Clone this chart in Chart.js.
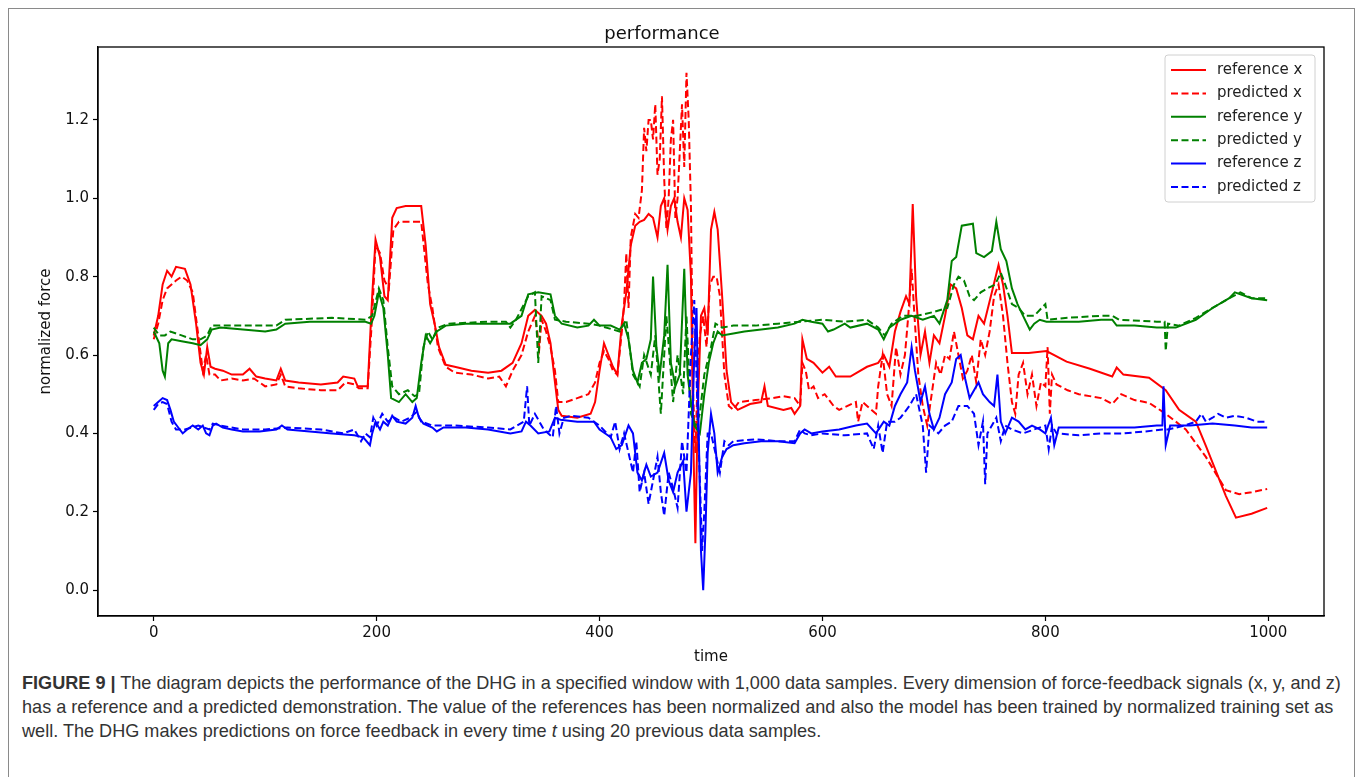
<!DOCTYPE html>
<html>
<head>
<meta charset="utf-8">
<script src="https://cdn.jsdelivr.net/npm/chart.js@4"></script>
<style>
  body { margin: 0; background: #fff; width: 1358px; height: 777px; overflow: hidden; position: relative; }
  #frame { position: absolute; left: 8px; top: 8px; width: 1345px; height: 800px; border: 1.5px solid #8a8a8a; border-bottom: none; }
  #wrap { position: absolute; left: 0; top: 0; width: 1358px; height: 668px; }
  #caption { position: absolute; left: 22px; top: 671px; width: 1330px; font-family: "Liberation Sans", Arial, sans-serif; font-size: 18.1px; line-height: 24px; color: #333; white-space: nowrap; }
  #caption b { color: #333; }
</style>
</head>
<body>
<div id="frame"></div>
<div id="wrap"><canvas id="chart" width="1358" height="668"></canvas></div>
<div id="caption"><b>FIGURE 9 |</b> The diagram depicts the performance of the DHG in a specified window with 1,000 data samples. Every dimension of force-feedback signals (x, y, and z)<br>has a reference and a predicted demonstration. The value of the references has been normalized and also the model has been trained by normalized training set as<br>well. The DHG makes predictions on force feedback in every time <i>t</i> using 20 previous data samples.</div>
<script>
// [time, value] pairs
const refX = [[0,0.65],[4,0.70],[8,0.78],[12,0.815],[16,0.80],[20,0.825],[28,0.82],[33,0.78],[38,0.68],[42,0.58],[45,0.55],[48,0.62],[51,0.57],[55,0.565],[62,0.56],[70,0.55],[80,0.55],[86,0.565],[92,0.545],[100,0.54],[110,0.535],[114,0.565],[118,0.535],[130,0.53],[150,0.525],[165,0.53],[170,0.545],[180,0.54],[183,0.52],[192,0.52],[196,0.75],[199,0.895],[203,0.85],[207,0.75],[210,0.74],[214,0.95],[218,0.975],[226,0.98],[240,0.98],[244,0.88],[248,0.73],[252,0.68],[256,0.62],[262,0.575],[270,0.57],[285,0.56],[300,0.555],[312,0.56],[322,0.58],[330,0.63],[336,0.70],[342,0.715],[348,0.70],[352,0.68],[356,0.63],[360,0.53],[363,0.46],[366,0.445],[380,0.44],[392,0.45],[396,0.48],[400,0.56],[404,0.63],[408,0.60],[412,0.57],[416,0.55],[420,0.68],[424,0.76],[428,0.88],[432,0.93],[436,0.94],[440,0.945],[444,0.96],[448,0.95],[452,0.90],[455,0.98],[458,1.0],[461,0.92],[464,0.98],[467,1.0],[470,0.94],[473,0.90],[476,1.0],[479,0.97],[482,0.80],[484,0.40],[486,0.12],[488,0.45],[491,0.70],[494,0.72],[497,0.65],[500,0.92],[503,0.965],[506,0.92],[510,0.75],[514,0.56],[518,0.48],[524,0.46],[535,0.475],[545,0.48],[548,0.52],[551,0.47],[565,0.46],[572,0.465],[575,0.45],[580,0.47],[582,0.64],[586,0.59],[592,0.58],[600,0.555],[606,0.57],[612,0.545],[625,0.545],[640,0.57],[650,0.58],[655,0.60],[660,0.57],[665,0.66],[670,0.71],[675,0.75],[678,0.73],[681,0.985],[684,0.75],[688,0.60],[692,0.66],[696,0.58],[700,0.65],[705,0.63],[710,0.70],[715,0.78],[720,0.77],[725,0.72],[730,0.65],[735,0.64],[740,0.70],[745,0.68],[752,0.76],[758,0.83],[762,0.78],[766,0.70],[770,0.605],[785,0.605],[801,0.61],[819,0.583],[840,0.565],[860,0.545],[864,0.568],[870,0.55],[893,0.542],[908,0.51],[920,0.46],[935,0.43],[944,0.368],[962,0.24],[971,0.185],[985,0.195],[999,0.21]];
const predX = [[0,0.64],[4,0.68],[8,0.74],[12,0.77],[16,0.78],[20,0.79],[25,0.80],[30,0.79],[35,0.76],[40,0.65],[44,0.56],[47,0.60],[50,0.55],[55,0.55],[60,0.535],[70,0.54],[80,0.535],[90,0.54],[95,0.53],[100,0.52],[110,0.525],[114,0.55],[118,0.52],[130,0.515],[150,0.51],[165,0.51],[172,0.53],[180,0.525],[184,0.515],[192,0.515],[196,0.70],[199,0.88],[203,0.86],[207,0.79],[211,0.77],[215,0.92],[220,0.94],[240,0.94],[246,0.78],[250,0.72],[255,0.62],[262,0.57],[270,0.555],[285,0.55],[300,0.54],[310,0.545],[316,0.52],[322,0.56],[330,0.60],[336,0.66],[342,0.70],[346,0.62],[348,0.69],[352,0.66],[356,0.62],[360,0.56],[363,0.48],[370,0.48],[380,0.49],[390,0.50],[396,0.53],[400,0.58],[404,0.61],[408,0.59],[412,0.56],[416,0.55],[420,0.66],[422,0.73],[424,0.86],[426,0.72],[428,0.90],[432,0.96],[435,0.95],[438,1.02],[440,1.18],[442,1.12],[444,1.20],[446,1.20],[448,1.15],[450,1.24],[452,1.06],[454,1.10],[456,1.26],[458,1.05],[460,0.92],[462,1.00],[464,1.15],[466,1.20],[468,0.95],[470,1.00],[472,1.12],[474,1.24],[476,1.08],[478,1.32],[480,1.20],[482,0.98],[484,0.50],[486,0.35],[488,0.55],[490,0.65],[493,0.70],[496,0.62],[499,0.78],[502,0.80],[505,0.80],[508,0.75],[512,0.55],[516,0.47],[520,0.46],[525,0.48],[540,0.485],[555,0.49],[565,0.495],[575,0.49],[580,0.47],[582,0.58],[585,0.56],[588,0.51],[592,0.52],[596,0.49],[602,0.50],[610,0.47],[615,0.46],[630,0.48],[632,0.43],[636,0.48],[648,0.45],[650,0.52],[654,0.60],[658,0.50],[662,0.47],[666,0.62],[670,0.55],[674,0.60],[677,0.70],[680,0.82],[683,0.68],[686,0.55],[690,0.47],[694,0.42],[698,0.50],[702,0.58],[706,0.55],[710,0.60],[714,0.59],[718,0.66],[722,0.60],[726,0.54],[730,0.56],[734,0.60],[738,0.53],[742,0.64],[746,0.60],[750,0.66],[754,0.75],[758,0.78],[762,0.70],[766,0.58],[770,0.48],[773,0.45],[776,0.55],[780,0.58],[784,0.50],[788,0.55],[792,0.47],[796,0.53],[800,0.52],[802,0.62],[804,0.45],[806,0.55],[810,0.525],[820,0.51],[830,0.50],[850,0.49],[860,0.475],[868,0.50],[880,0.485],[893,0.478],[908,0.45],[926,0.41],[944,0.34],[962,0.255],[974,0.245],[985,0.25],[999,0.258]];
const refY = [[0,0.66],[5,0.63],[8,0.56],[10,0.545],[13,0.63],[16,0.64],[25,0.635],[35,0.63],[42,0.625],[48,0.64],[52,0.665],[60,0.67],[80,0.665],[100,0.66],[110,0.665],[118,0.68],[140,0.685],[160,0.685],[180,0.685],[190,0.685],[195,0.68],[198,0.70],[202,0.76],[206,0.72],[210,0.60],[213,0.49],[220,0.48],[226,0.50],[232,0.48],[236,0.49],[240,0.58],[244,0.65],[248,0.63],[254,0.66],[262,0.675],[280,0.68],[300,0.68],[320,0.68],[330,0.70],[336,0.755],[345,0.76],[356,0.755],[360,0.70],[366,0.68],[380,0.67],[390,0.675],[395,0.69],[400,0.675],[410,0.675],[418,0.665],[422,0.68],[426,0.64],[430,0.56],[434,0.53],[438,0.58],[442,0.59],[446,0.64],[448,0.80],[451,0.62],[454,0.55],[458,0.65],[461,0.83],[464,0.58],[468,0.52],[472,0.55],[476,0.82],[479,0.55],[482,0.48],[485,0.42],[490,0.40],[494,0.50],[498,0.58],[502,0.63],[506,0.66],[510,0.65],[520,0.655],[530,0.66],[545,0.665],[560,0.67],[575,0.68],[582,0.69],[590,0.685],[600,0.68],[605,0.66],[610,0.665],[620,0.68],[625,0.67],[640,0.68],[650,0.665],[655,0.64],[660,0.67],[670,0.69],[680,0.70],[690,0.69],[700,0.70],[705,0.68],[712,0.74],[716,0.84],[720,0.85],[725,0.93],[735,0.935],[738,0.86],[745,0.85],[752,0.865],[756,0.94],[760,0.87],[765,0.84],[770,0.77],[775,0.73],[780,0.70],[786,0.665],[790,0.68],[795,0.69],[801,0.685],[830,0.685],[850,0.69],[860,0.69],[864,0.675],[880,0.675],[900,0.67],[917,0.67],[935,0.69],[950,0.72],[965,0.745],[970,0.76],[985,0.745],[999,0.74]];
const predY = [[0,0.67],[5,0.65],[10,0.65],[15,0.66],[25,0.65],[35,0.64],[42,0.64],[48,0.65],[52,0.675],[80,0.675],[110,0.675],[118,0.69],[160,0.695],[190,0.69],[196,0.70],[202,0.77],[206,0.74],[210,0.62],[214,0.52],[220,0.50],[228,0.51],[234,0.495],[238,0.50],[242,0.62],[246,0.66],[250,0.64],[255,0.67],[265,0.68],[300,0.685],[316,0.685],[320,0.67],[325,0.69],[336,0.75],[342,0.76],[345,0.58],[348,0.75],[356,0.74],[360,0.69],[370,0.685],[390,0.68],[400,0.675],[418,0.66],[424,0.69],[430,0.55],[436,0.52],[440,0.60],[446,0.55],[450,0.65],[455,0.45],[460,0.70],[466,0.48],[470,0.60],[475,0.50],[478,0.70],[482,0.45],[486,0.42],[490,0.45],[494,0.55],[500,0.62],[504,0.68],[510,0.67],[520,0.675],[540,0.675],[560,0.68],[580,0.685],[600,0.69],[620,0.685],[640,0.69],[650,0.67],[656,0.65],[662,0.68],[672,0.70],[685,0.70],[700,0.71],[712,0.72],[718,0.78],[722,0.80],[727,0.79],[732,0.75],[736,0.74],[742,0.76],[748,0.77],[755,0.78],[760,0.81],[764,0.78],[770,0.73],[776,0.72],[782,0.70],[790,0.70],[800,0.73],[802,0.69],[820,0.695],[850,0.70],[860,0.70],[866,0.69],[900,0.685],[907,0.685],[908,0.61],[910,0.68],[920,0.675],[935,0.695],[950,0.72],[965,0.745],[975,0.76],[985,0.745],[999,0.745]];
const refZ = [[0,0.47],[4,0.48],[8,0.49],[12,0.485],[15,0.46],[18,0.43],[22,0.415],[26,0.40],[30,0.41],[35,0.42],[40,0.41],[44,0.42],[47,0.40],[50,0.395],[53,0.42],[56,0.425],[62,0.415],[70,0.41],[80,0.405],[95,0.405],[110,0.41],[115,0.42],[120,0.41],[140,0.405],[160,0.40],[180,0.395],[188,0.39],[194,0.37],[196,0.40],[199,0.43],[203,0.41],[206,0.43],[210,0.42],[214,0.445],[218,0.43],[226,0.425],[232,0.44],[235,0.47],[238,0.44],[242,0.425],[250,0.415],[254,0.405],[260,0.415],[280,0.415],[300,0.41],[320,0.40],[330,0.405],[334,0.43],[338,0.42],[345,0.40],[355,0.405],[360,0.44],[365,0.435],[380,0.43],[395,0.43],[400,0.41],[410,0.39],[415,0.36],[420,0.37],[426,0.42],[430,0.40],[434,0.30],[438,0.28],[442,0.32],[446,0.29],[452,0.30],[458,0.35],[462,0.28],[466,0.25],[470,0.30],[475,0.33],[478,0.20],[482,0.30],[485,0.60],[487,0.72],[489,0.40],[491,0.10],[493,0.0],[495,0.15],[497,0.35],[500,0.45],[503,0.40],[506,0.30],[510,0.34],[514,0.36],[520,0.37],[530,0.375],[545,0.38],[560,0.38],[575,0.375],[580,0.40],[584,0.41],[590,0.40],[600,0.405],[615,0.41],[630,0.42],[640,0.425],[648,0.40],[655,0.43],[660,0.42],[665,0.47],[670,0.50],[676,0.53],[680,0.62],[683,0.56],[688,0.48],[692,0.52],[696,0.45],[700,0.41],[705,0.44],[710,0.50],[716,0.53],[720,0.59],[724,0.60],[728,0.54],[732,0.49],[736,0.51],[740,0.53],[744,0.50],[750,0.48],[754,0.47],[757,0.55],[760,0.43],[764,0.40],[770,0.44],[776,0.43],[782,0.41],[788,0.42],[795,0.41],[800,0.40],[805,0.44],[808,0.37],[812,0.415],[830,0.415],[860,0.415],[880,0.415],[900,0.42],[905,0.42],[906,0.52],[908,0.37],[912,0.42],[930,0.42],[950,0.425],[970,0.42],[985,0.415],[999,0.415]];
const predZ = [[0,0.46],[4,0.475],[8,0.48],[12,0.475],[16,0.43],[20,0.41],[28,0.41],[40,0.42],[50,0.41],[53,0.425],[60,0.42],[80,0.41],[100,0.41],[120,0.415],[150,0.41],[170,0.40],[180,0.41],[186,0.38],[190,0.40],[194,0.39],[197,0.44],[200,0.42],[205,0.45],[210,0.43],[216,0.44],[222,0.43],[230,0.44],[236,0.455],[240,0.43],[250,0.42],[270,0.42],[300,0.415],[320,0.41],[332,0.43],[335,0.52],[337,0.42],[342,0.45],[350,0.41],[358,0.39],[361,0.47],[364,0.40],[368,0.44],[375,0.445],[390,0.44],[400,0.42],[410,0.39],[414,0.43],[418,0.36],[422,0.40],[426,0.35],[430,0.30],[433,0.38],[436,0.25],[440,0.30],[444,0.22],[448,0.28],[452,0.34],[455,0.25],[458,0.19],[462,0.30],[466,0.26],[470,0.21],[474,0.38],[478,0.30],[482,0.60],[485,0.74],[488,0.45],[490,0.28],[492,0.10],[494,0.20],[497,0.40],[500,0.40],[504,0.35],[508,0.30],[512,0.38],[516,0.37],[520,0.38],[540,0.385],[560,0.38],[575,0.38],[580,0.41],[584,0.40],[590,0.395],[600,0.40],[620,0.395],[640,0.40],[646,0.36],[650,0.42],[654,0.35],[658,0.43],[665,0.43],[670,0.44],[678,0.47],[684,0.50],[690,0.42],[693,0.30],[696,0.42],[704,0.40],[710,0.42],[716,0.43],[722,0.47],[730,0.47],[736,0.45],[740,0.37],[744,0.43],[746,0.27],[748,0.40],[752,0.42],[756,0.44],[760,0.38],[764,0.42],[770,0.41],[780,0.40],[790,0.41],[800,0.42],[803,0.36],[806,0.42],[810,0.40],[830,0.395],[850,0.40],[870,0.40],[890,0.405],[905,0.41],[910,0.41],[925,0.42],[935,0.43],[940,0.45],[944,0.43],[950,0.44],[955,0.45],[962,0.44],[970,0.445],[980,0.44],[990,0.43],[999,0.43]];

const seriesLabels = ['reference x', 'predicted x', 'reference y', 'predicted y', 'reference z', 'predicted z'];
const seriesData = [refX, predX, refY, predY, refZ, predZ];
const seriesColors = ['#ff0000', '#ff0000', '#008000', '#008000', '#0000ff', '#0000ff'];
const yTicks = [0.0, 0.2, 0.4, 0.6, 0.8, 1.0, 1.2];
const xTicks = [0, 200, 400, 600, 800, 1000];

const FONT = 'DejaVu Sans';
const DASH = [7, 3.5];

// frame around the plot area
const frame = {
    id: 'frame',
    afterDatasetsDraw(chart) {
        const a = chart.chartArea, ctx = chart.ctx;
        ctx.save();
        ctx.strokeStyle = '#000';
        ctx.lineWidth = 1.3;
        ctx.strokeRect(a.left, a.top, a.right - a.left, a.bottom - a.top);
        ctx.restore();
    }
};

// matplotlib style legend in the upper right corner
const boxLegend = {
    id: 'boxLegend',
    afterDraw(chart) {
        const a = chart.chartArea, ctx = chart.ctx;
        const w = 150, h = 147;
        const x0 = a.right - 9 - w, y0 = a.top + 8;
        ctx.save();
        ctx.fillStyle = 'rgba(255,255,255,0.85)';
        ctx.strokeStyle = '#d0d0d0';
        ctx.lineWidth = 1;
        ctx.beginPath();
        ctx.roundRect(x0, y0, w, h, 3);
        ctx.fill();
        ctx.stroke();
        ctx.font = '15px "' + FONT + '"';
        ctx.textBaseline = 'middle';
        chart.data.datasets.forEach((ds, i) => {
            const y = y0 + 15 + i * 23.4;
            ctx.strokeStyle = ds.borderColor;
            ctx.lineWidth = 2;
            ctx.setLineDash(ds.borderDash || []);
            ctx.beginPath();
            ctx.moveTo(x0 + 6, y);
            ctx.lineTo(x0 + 41, y);
            ctx.stroke();
            ctx.setLineDash([]);
            ctx.fillStyle = '#222';
            ctx.fillText(ds.label, x0 + 52, y);
        });
        ctx.restore();
    }
};

new Chart(document.getElementById('chart'), {
    type: 'line',
    data: {
        datasets: seriesData.map((pts, i) => ({
            label: seriesLabels[i],
            data: pts.map(p => ({ x: p[0], y: p[1] })),
            borderColor: seriesColors[i],
            borderWidth: 2,
            borderDash: i % 2 ? DASH : [],
            pointRadius: 0,
            tension: 0,
            fill: false,
            order: 5 - i
        }))
    },
    options: {
        responsive: false,
        animation: false,
        devicePixelRatio: 1,
        layout: { padding: { left: 0, right: 34, top: 0, bottom: 0 } },
        plugins: {
            legend: { display: false },
            tooltip: { enabled: false },
            title: {
                display: true,
                text: 'performance',
                color: '#111',
                font: { family: FONT, size: 18, weight: 'normal', lineHeight: 1.2 },
                padding: { top: 24, bottom: 1.4 }
            }
        },
        scales: {
            x: {
                type: 'linear',
                min: -50,
                max: 1050,
                afterBuildTicks: s => { s.ticks = xTicks.map(v => ({ value: v })); },
                afterFit: s => { s.height = 52; },
                grid: { drawOnChartArea: false, drawTicks: true, tickLength: 5, color: '#000', tickWidth: 1.2 },
                border: { display: true, color: '#000', width: 1.3 },
                ticks: { color: '#111', padding: 3, maxRotation: 0, callback: v => String(v), font: { family: FONT, size: 15 } },
                title: { display: true, text: 'time', color: '#111', padding: { top: 4, bottom: 2 }, font: { family: FONT, size: 15 } }
            },
            y: {
                type: 'linear',
                min: -0.066,
                max: 1.386,
                afterBuildTicks: s => { s.ticks = yTicks.map(v => ({ value: v })); },
                afterFit: s => { s.width = 98; },
                grid: { drawOnChartArea: false, drawTicks: true, tickLength: 5, color: '#000', tickWidth: 1.2 },
                border: { display: true, color: '#000', width: 1.3 },
                ticks: { color: '#111', padding: 4, callback: v => v.toFixed(1), font: { family: FONT, size: 15 } },
                title: { display: true, text: 'normalized force', color: '#111', padding: { top: 37, bottom: 0 }, font: { family: FONT, size: 15 } }
            }
        }
    },
    plugins: [frame, boxLegend]
});
</script>
</body>
</html>
